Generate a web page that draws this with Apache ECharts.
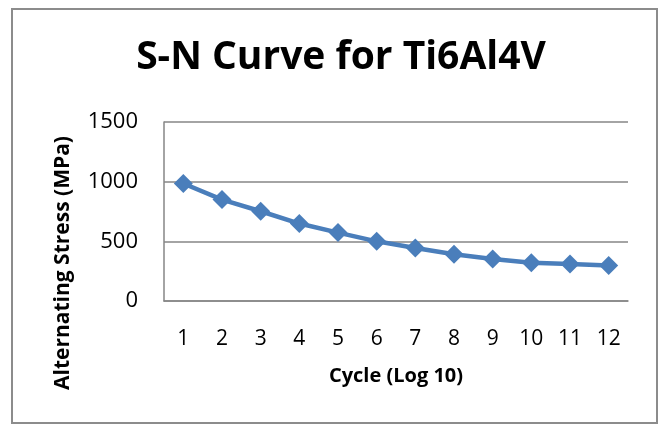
<!DOCTYPE html>
<html>
<head>
<meta charset="utf-8">
<script src="https://cdn.jsdelivr.net/npm/echarts@6/dist/echarts.min.js"></script>
<style>
html, body { margin: 0; padding: 0; background: #fff; }
#sn_chart { width: 660px; height: 424px; }
</style>
</head>
<body>
<div id="sn_chart"></div>
<script>
// 数据
var cycles = ['1', '2', '3', '4', '5', '6', '7', '8', '9', '10', '11', '12'];
var stress = [985, 850, 752, 649, 573, 500, 444, 391, 352, 320, 310, 297];
var yTicks = [0, 500, 1000, 1500];

var sn_chart = {};

sn_chart.init = function() {
	var chart = echarts.init(document.getElementById('sn_chart'));
	sn_chart.chart = chart;

	var font = '"Open Sans", "Liberation Sans", sans-serif';
	var option = {
		animation : false,
		textStyle : { fontFamily : font },
		title : {
			text : 'S-N Curve for Ti6Al4V',
			left : 336,
			top : 33,
			textAlign : 'center',
			textStyle : {
				fontFamily : font,
				fontSize : 39,
				fontWeight : 'bold',
				color : '#000'
			}
		},
		graphic : [ {
			type : 'rect',
			shape : { x : 12, y : 9, width : 645, height : 414 },
			style : { fill : 'none', stroke : '#8c8c8c', lineWidth : 2 },
			silent : true
		}, {
			type : 'text',
			x : 63,
			y : 263,
			rotation : Math.PI / 2,
			style : {
				text : 'Alternating Stress (MPa)',
				fontFamily : font,
				fontSize : 21,
				fontWeight : 'bold',
				fill : '#000',
				align : 'center',
				verticalAlign : 'middle'
			}
		} ],
		grid : {
			left : 164,
			right : 32,
			top : 122,
			bottom : 123
		},
		xAxis : {
			type : 'category',
			data : cycles,
			boundaryGap : true,
			name : 'Cycle (Log 10)',
			nameLocation : 'middle',
			nameGap : 65,
			nameTextStyle : {
				fontFamily : font,
				fontSize : 20,
				fontWeight : 'bold',
				color : '#000'
			},
			axisLine : { lineStyle : { color : '#868686', width : 1.5 } },
			axisTick : { show : false },
			axisLabel : {
				margin : 28,
				fontSize : 21,
				color : '#000',
				fontFamily : font
			}
		},
		yAxis : {
			type : 'value',
			min : yTicks[0],
			max : yTicks[yTicks.length - 1],
			interval : yTicks[1] - yTicks[0],
			axisLine : { show : true, lineStyle : { color : '#868686', width : 1.5 } },
			axisTick : { show : false },
			splitLine : { lineStyle : { color : '#868686', width : 1.5 } },
			axisLabel : {
				margin : 26,
				fontSize : 22,
				color : '#000',
				fontFamily : font,
				formatter : function(v) { return String(v); }
			}
		},
		series : [ {
			name : 'Stress',
			type : 'line',
			data : stress,
			symbol : 'diamond',
			symbolSize : 19,
			lineStyle : { color : '#4a7ebb', width : 4.5 },
			itemStyle : { color : '#4a7ebb' }
		} ]
	};
	chart.setOption(option);
};

sn_chart.init();
</script>
</body>
</html>
